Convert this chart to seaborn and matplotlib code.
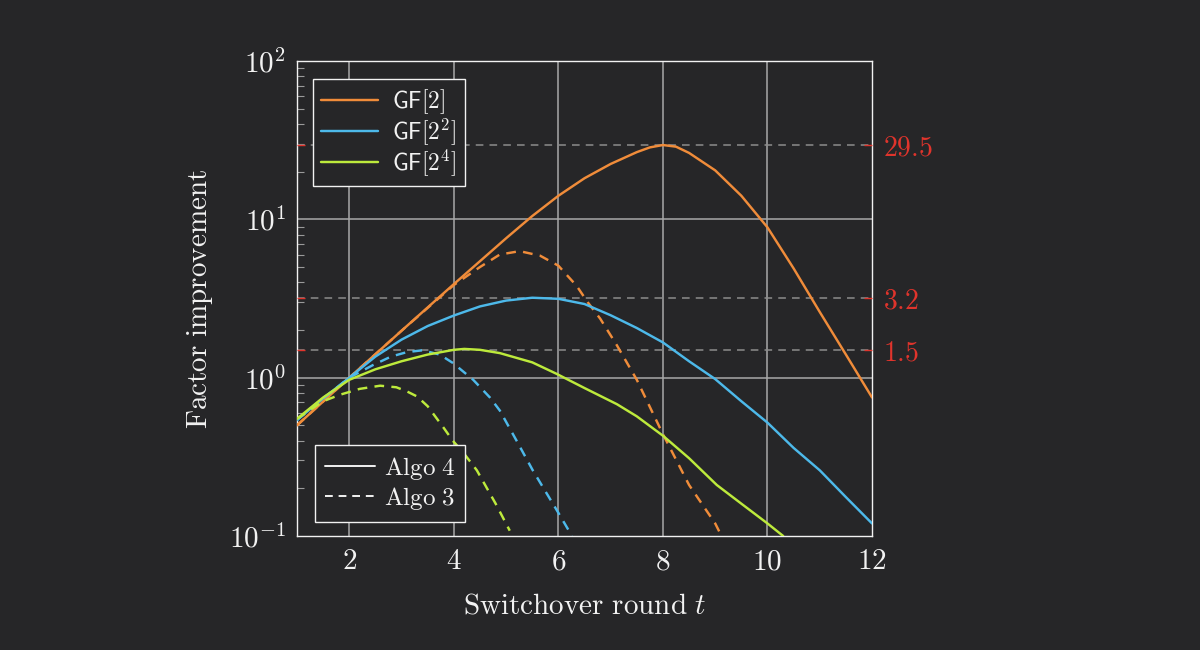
import matplotlib
matplotlib.use("Agg")
import matplotlib.pyplot as plt
import seaborn as sns
import pandas as pd
from matplotlib.lines import Line2D
from matplotlib.ticker import LogLocator, NullFormatter, FixedLocator

# --- data ---
t_gf2_a4 = [1, 2, 3, 4, 5, 5.5, 6, 6.5, 7, 7.5, 7.75, 8, 8.25, 8.5, 9, 9.5, 10, 10.5, 11, 11.5, 12]
v_gf2_a4 = [0.50, 1.0, 1.98, 3.9, 7.6, 10.5, 14.1, 18.2, 22.4, 26.6, 28.5, 29.5, 28.8, 26.3,
            20.4, 14.1, 8.9, 4.9, 2.6, 1.4, 0.75]

t_gf2_a3 = [1, 2, 3, 4, 4.5, 4.88, 5.26, 5.65, 6, 6.35, 6.56, 6.8, 7.12, 7.5, 8, 8.5, 9, 9.12]
v_gf2_a3 = [0.50, 1.0, 1.98, 3.85, 5.0, 6.0, 6.3, 5.9, 5.1, 3.8, 3.0, 2.36, 1.6, 0.97, 0.44,
            0.21, 0.12, 0.1]

t_gf4_a4 = [1, 1.5, 2, 2.5, 3, 3.5, 4, 4.5, 5, 5.5, 6, 6.5, 7, 7.5, 8, 8.5, 9, 9.5, 10, 10.5,
            11, 11.5, 12]
v_gf4_a4 = [0.54, 0.74, 1.0, 1.36, 1.74, 2.12, 2.47, 2.82, 3.07, 3.2, 3.15, 2.92, 2.48, 2.06,
            1.67, 1.27, 0.98, 0.71, 0.52, 0.36, 0.26, 0.176, 0.12]

t_gf4_a3 = [1, 1.5, 2, 2.45, 2.8, 3.1, 3.4, 3.73, 3.98, 4.37, 4.69, 4.88, 5.2, 5.51, 6, 6.26]
v_gf4_a3 = [0.54, 0.74, 1.0, 1.2, 1.36, 1.45, 1.49, 1.40, 1.24, 0.97, 0.75, 0.62, 0.40, 0.26,
            0.14, 0.1]

t_gf16_a4 = [1, 1.5, 2, 2.5, 3, 3.5, 4, 4.2, 4.5, 4.88, 5.5, 5.96, 6.5, 7.12, 7.5, 8, 8.5,
             9.03, 9.5, 10, 10.3]
v_gf16_a4 = [0.55, 0.75, 0.97, 1.13, 1.27, 1.40, 1.50, 1.52, 1.50, 1.43, 1.25, 1.06, 0.86,
             0.68, 0.57, 0.43, 0.31, 0.21, 0.16, 0.12, 0.1]

t_gf16_a3 = [1, 1.5, 1.82, 2.2, 2.59, 2.9, 3.1, 3.3, 3.5, 3.81, 3.98, 4.2, 4.44, 4.8, 5.07]
v_gf16_a3 = [0.55, 0.71, 0.78, 0.85, 0.89, 0.87, 0.82, 0.76, 0.66, 0.48, 0.40, 0.33, 0.26,
             0.16, 0.108]

fields = ["GF2", "GF4", "GF16"]
field_labels = [r"$\mathsf{GF}[2]$", r"$\mathsf{GF}[2^2]$", r"$\mathsf{GF}[2^4]$"]
algos = ["Algo 4", "Algo 3"]
peaks = [29.5, 3.2, 1.5]
peak_labels = ["29.5", "3.2", "1.5"]

series = {
    ("GF2", "Algo 4"): (t_gf2_a4, v_gf2_a4),
    ("GF2", "Algo 3"): (t_gf2_a3, v_gf2_a3),
    ("GF4", "Algo 4"): (t_gf4_a4, v_gf4_a4),
    ("GF4", "Algo 3"): (t_gf4_a3, v_gf4_a3),
    ("GF16", "Algo 4"): (t_gf16_a4, v_gf16_a4),
    ("GF16", "Algo 3"): (t_gf16_a3, v_gf16_a3),
}
rows = []
for (f, a), (ts, vs) in series.items():
    for t, v in zip(ts, vs):
        rows.append({"field": f, "algo": a, "t": t, "factor": v})
df = pd.DataFrame(rows)

bg = "#262628"
fg = "#f2f2f2"
colors = {"GF2": "#f08c3a", "GF4": "#4db9ea", "GF16": "#bdea3c"}
red = "#e0342c"

sns.set_theme(style="dark")
plt.rcParams["mathtext.fontset"] = "cm"
plt.rcParams["font.family"] = ["DejaVu Serif"]

fig = plt.figure(figsize=(12, 6.5), dpi=100, facecolor=bg)
ax = fig.add_axes([0.2475, 0.1754, 0.4792, 0.7306])
ax.set_facecolor(bg)
ax.set_yscale("log")
ax.set_xlim(1, 12)
ax.set_ylim(0.1, 100)

# grid
for x in [2, 4, 6, 8, 10]:
    ax.axvline(x, color="#a8a8a8", lw=1.1, zorder=1)
for y in [1, 10]:
    ax.axhline(y, color="#a8a8a8", lw=1.1, zorder=1)

# reference lines at the peaks
for p in peaks:
    ax.axhline(p, color="#8c8c8c", lw=1.1, ls=(0, (5, 4)), zorder=1)

sns.lineplot(data=df, x="t", y="factor", hue="field", style="algo",
             palette=colors, dashes={"Algo 4": "", "Algo 3": (4, 3)},
             hue_order=fields, style_order=algos, lw=1.75, legend=False,
             estimator=None, ax=ax, zorder=3)

for s in ax.spines.values():
    s.set_color(fg)
    s.set_linewidth(1.0)
    s.set_visible(True)

ax.set_xticks([2, 4, 6, 8, 10, 12])
ax.set_xticklabels([r"$%d$" % v for v in [2, 4, 6, 8, 10, 12]])
ax.yaxis.set_major_locator(FixedLocator([0.1, 1, 10, 100]))
ax.set_yticklabels([r"$10^{-1}$", r"$10^{0}$", r"$10^{1}$", r"$10^{2}$"])
ax.yaxis.set_minor_locator(LogLocator(base=10, subs=range(2, 10)))
ax.yaxis.set_minor_formatter(NullFormatter())
ax.tick_params(axis="both", which="major", colors=fg, labelsize=21, length=0, pad=8)
ax.tick_params(axis="y", which="minor", direction="in", left=True, right=True,
               color="#9a9a9a", length=5, width=0.8)
ax.grid(False)

ax.set_xlabel(r"$\mathrm{Switchover\ round}\ t$", color=fg, fontsize=21, labelpad=12)
ax.set_ylabel(r"$\mathrm{Factor\ improvement}$", color=fg, fontsize=21, labelpad=10)

# red peak ticks and labels on the right
ax2 = ax.twinx()
ax2.set_yscale("log")
ax2.set_ylim(ax.get_ylim())
ax2.yaxis.set_major_locator(FixedLocator(peaks))
ax2.set_yticklabels([r"$%s$" % s for s in peak_labels])
ax2.yaxis.set_minor_locator(FixedLocator([]))
ax2.tick_params(axis="y", which="major", direction="in", left=True, right=True,
                labelleft=False, labelright=True, color=red, labelcolor=red,
                length=6, width=1.0, labelsize=20, pad=8)
ax2.grid(False)
for s in ax2.spines.values():
    s.set_visible(False)

# legends
h1 = [Line2D([], [], color=colors[f], lw=1.75) for f in fields]
leg1 = ax.legend(h1, field_labels, loc="upper left", bbox_to_anchor=(0.028, 0.962),
                 borderaxespad=0, fontsize=17, frameon=True, fancybox=False,
                 handlelength=2.4, handletextpad=0.6, borderpad=0.35, labelspacing=0.0)
leg1.get_frame().set_facecolor(bg)
leg1.get_frame().set_edgecolor(fg)
leg1.get_frame().set_alpha(1)
for txt in leg1.get_texts():
    txt.set_color(fg)
ax.add_artist(leg1)

h2 = [Line2D([], [], color=fg, lw=1.4), Line2D([], [], color=fg, lw=1.4, ls=(0, (4, 3)))]
leg2 = ax.legend(h2, [r"$\mathrm{Algo\ 4}$", r"$\mathrm{Algo\ 3}$"], loc="lower left",
                 bbox_to_anchor=(0.031, 0.029), borderaxespad=0, fontsize=18,
                 frameon=True, fancybox=False, handlelength=2.0, handletextpad=0.35,
                 borderpad=0.4, labelspacing=0.12)
leg2.get_frame().set_facecolor(bg)
leg2.get_frame().set_edgecolor(fg)
leg2.get_frame().set_alpha(1)
for txt in leg2.get_texts():
    txt.set_color(fg)

fig.savefig("out.png", dpi=100, facecolor=bg)
